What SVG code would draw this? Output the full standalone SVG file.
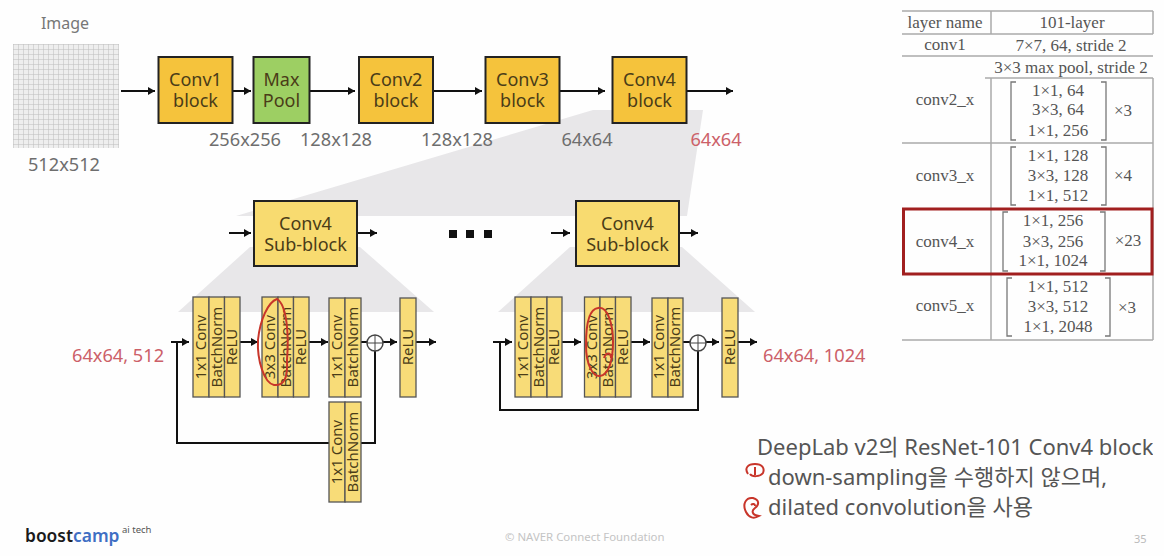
<svg xmlns="http://www.w3.org/2000/svg" width="1164" height="556" viewBox="0 0 1164 556">
<style>
text{font-family:"Noto Sans","Noto Sans CJK KR",sans-serif;}
.blk{fill:#f5c33c;stroke:#222;stroke-width:2}
.sub{fill:#f8db70;stroke:#222;stroke-width:2}
.lbl{font-size:18px;fill:#4a3c18;text-anchor:middle}
.dim{font-size:18.2px;fill:#6e6e6e;text-anchor:middle}
.red{font-size:18.2px;fill:#cc6068}
.cell{fill:#f8dc78;stroke:#555;stroke-width:1.3}
.v{font-size:15px;fill:#4a3c18;text-anchor:middle}
.wire{stroke:#111;stroke-width:2;fill:none}
.arr{stroke:#111;stroke-width:2;fill:none;marker-end:url(#head)}
.tl{stroke:#aaa;stroke-width:1.5;fill:none}
.br{stroke:#777;stroke-width:1.3;fill:none}
.t{font-family:"Liberation Serif",serif;font-size:17px;fill:#555;text-anchor:middle}
.ink{stroke:#c8352a;stroke-width:2;fill:none}
.note{font-size:22px;fill:#555}
</style>
<defs>
<marker id="head" markerUnits="userSpaceOnUse" markerWidth="9" markerHeight="9" refX="7" refY="4" orient="auto"><path d="M0 0L7 4L0 8Z" fill="#111"/></marker>
<pattern id="mesh" width="5" height="5" patternUnits="userSpaceOnUse" x="13" y="44"><rect width="5" height="5" fill="#eeeeee"/><path d="M0 0H5M0 0V5" stroke="#bdbdbd" stroke-width="1"/></pattern>
<clipPath id="noteClip"><rect x="740" y="430" width="413" height="40"/></clipPath>
</defs>
<rect width="1164" height="556" fill="#fefefe"/>

<!-- zoom wedges behind the blocks -->
<g id="wedges" fill="#e8e7e9">
<polygon points="593,110 703,110 687,216 236,216"/>
<polygon points="250,247 360,247 434,312 178,312"/>
<polygon points="570,247 682,247 755,312 498,312"/>
</g>

<g id="input-image">
<text x="65" y="29" font-size="16" fill="#777" text-anchor="middle">Image</text>
<rect x="13" y="44" width="106" height="104" fill="url(#mesh)"/>
<text x="64" y="171" class="dim">512x512</text>
</g>

<g id="connectors">
<path class="arr" d="M121 91H155"/>
<path class="arr" d="M233 91H251"/>
<path class="arr" d="M310 91H355"/>
<path class="arr" d="M433 91H482"/>
<path class="arr" d="M560 91H605"/>
<path class="arr" d="M687 91H733"/>
<path class="arr" d="M229 233H251"/>
<path class="arr" d="M358 233H377"/>
<path class="arr" d="M551 233H570"/>
<path class="arr" d="M680 233H698"/>
<path class="arr" d="M171 342H189"/>
<path class="arr" d="M240 342H258"/>
<path class="arr" d="M309 342H328"/>
<path class="wire" d="M361 342H367"/>
<path class="arr" d="M383 342H397"/>
<path class="arr" d="M416 342H436"/>
<path class="wire" d="M177 342V443H375V351"/>
<path class="arr" d="M493 342H512"/>
<path class="arr" d="M562 342H581"/>
<path class="arr" d="M631 342H650"/>
<path class="wire" d="M683 342H690"/>
<path class="arr" d="M706 342H719"/>
<path class="arr" d="M738 342H757"/>
<path class="wire" d="M500 342V410H698V351"/>
</g>

<g id="conv1-block"><rect class="blk" x="158.500" y="57" width="74" height="66"/><text class="lbl" x="195.500" y="86">Conv1</text><text class="lbl" x="195.500" y="107">block</text></g>
<g id="max-pool"><rect x="253.500" y="57" width="56" height="66" fill="#9dcf63" stroke="#222" stroke-width="2"/><text class="lbl" x="281.500" y="86">Max</text><text class="lbl" x="281.500" y="107">Pool</text></g>
<g id="conv2-block"><rect class="blk" x="359" y="57" width="74" height="66"/><text class="lbl" x="396" y="86">Conv2</text><text class="lbl" x="396" y="107">block</text></g>
<g id="conv3-block"><rect class="blk" x="485.500" y="57" width="74" height="66"/><text class="lbl" x="522.500" y="86">Conv3</text><text class="lbl" x="522.500" y="107">block</text></g>
<g id="conv4-block"><rect class="blk" x="612.500" y="57" width="74" height="66"/><text class="lbl" x="649.500" y="86">Conv4</text><text class="lbl" x="649.500" y="107">block</text></g>

<g id="stage-sizes">
<text class="dim" x="245" y="146">256x256</text>
<text class="dim" x="336" y="146">128x128</text>
<text class="dim" x="457" y="146">128x128</text>
<text class="dim" x="587" y="146">64x64</text>
<text class="red" x="716" y="146" text-anchor="middle">64x64</text>
</g>

<g id="sub-block-first"><rect class="sub" x="254" y="201" width="103" height="65"/><text class="lbl" x="305.500" y="230">Conv4</text><text class="lbl" x="305.500" y="251">Sub-block</text></g>
<g id="sub-block-last"><rect class="sub" x="576" y="201" width="103" height="65"/><text class="lbl" x="627.500" y="230">Conv4</text><text class="lbl" x="627.500" y="251">Sub-block</text></g>
<g id="ellipsis" fill="#111"><rect x="449" y="230" width="8" height="8"/><rect x="466" y="230" width="8" height="8"/><rect x="484" y="230" width="8" height="8"/></g>

<!-- first sub-block internals -->
<g id="a-conv1"><rect class="cell" x="193" y="297" width="16" height="100"/><rect class="cell" x="209" y="297" width="15.500" height="100"/><rect class="cell" x="224.500" y="297" width="15.500" height="100"/>
<text class="v" transform="translate(206,347) rotate(-90)">1x1 Conv</text><text class="v" transform="translate(222,347) rotate(-90)">BatchNorm</text><text class="v" transform="translate(237,347) rotate(-90)">ReLU</text></g>
<g id="a-conv3"><rect class="cell" x="262" y="297" width="16" height="100"/><rect class="cell" x="278" y="297" width="15.500" height="100"/><rect class="cell" x="293.500" y="297" width="15.500" height="100"/>
<text class="v" transform="translate(275,347) rotate(-90)">3x3 Conv</text><text class="v" transform="translate(291,347) rotate(-90)">BatchNorm</text><text class="v" transform="translate(306,347) rotate(-90)">ReLU</text></g>
<g id="a-conv1b"><rect class="cell" x="329" y="298" width="16" height="99"/><rect class="cell" x="345" y="298" width="16" height="99"/>
<text class="v" transform="translate(342,347) rotate(-90)">1x1 Conv</text><text class="v" transform="translate(358,347) rotate(-90)">BatchNorm</text></g>
<g id="a-add"><circle cx="375" cy="343" r="8" fill="#fff" stroke="#444" stroke-width="1.500"/><path d="M367 343H383M375 335V351" stroke="#444" stroke-width="1"/></g>
<g id="a-relu"><rect class="cell" x="400" y="298" width="16" height="99"/><text class="v" transform="translate(413,347) rotate(-90)">ReLU</text></g>
<g id="a-shortcut"><rect class="cell" x="329" y="402" width="16" height="100"/><rect class="cell" x="345" y="402" width="16" height="100"/>
<text class="v" transform="translate(342,452) rotate(-90)">1x1 Conv</text><text class="v" transform="translate(358,452) rotate(-90)">BatchNorm</text></g>
<text id="a-size" class="red" x="72" y="362">64x64, 512</text>

<!-- last sub-block internals -->
<g id="b-conv1"><rect class="cell" x="515" y="297" width="16" height="100"/><rect class="cell" x="531" y="297" width="16" height="100"/><rect class="cell" x="547" y="297" width="15" height="100"/>
<text class="v" transform="translate(528,347) rotate(-90)">1x1 Conv</text><text class="v" transform="translate(544,347) rotate(-90)">BatchNorm</text><text class="v" transform="translate(559,347) rotate(-90)">ReLU</text></g>
<g id="b-conv3"><rect class="cell" x="584.500" y="297" width="15.500" height="100"/><rect class="cell" x="600" y="297" width="15.500" height="100"/><rect class="cell" x="615.500" y="297" width="15.500" height="100"/>
<text class="v" transform="translate(597,347) rotate(-90)">3x3 Conv</text><text class="v" transform="translate(613,347) rotate(-90)">BatchNorm</text><text class="v" transform="translate(628,347) rotate(-90)">ReLU</text></g>
<g id="b-conv1b"><rect class="cell" x="652" y="298" width="16" height="99"/><rect class="cell" x="668" y="298" width="15" height="99"/>
<text class="v" transform="translate(664,347) rotate(-90)">1x1 Conv</text><text class="v" transform="translate(680,347) rotate(-90)">BatchNorm</text></g>
<g id="b-add"><circle cx="698" cy="343" r="8" fill="#fff" stroke="#444" stroke-width="1.500"/><path d="M690 343H706M698 335V351" stroke="#444" stroke-width="1"/></g>
<g id="b-relu"><rect class="cell" x="722" y="298" width="16" height="99"/><text class="v" transform="translate(735,347) rotate(-90)">ReLU</text></g>
<text id="b-size" class="red" x="763" y="362">64x64, 1024</text>

<!-- hand-drawn annotations -->
<g id="ink">
<path class="ink" d="M277 299C268 302 260 320 258 340C257 360 264 383 274 385C284 386 288 378 287 360C289 335 287 305 277 299Z"/>
<path class="ink" d="M598 308C589 309 586 325 586 345C586 365 593 377 600 376C608 375 613 362 613 342C613 325 608 306 598 308Z"/>
<path class="ink" d="M604 358C606 352 611 352 611 358"/>
<path class="ink" d="M748 474C744 468 748 464 755 464C762 464 765 468 763 473C760 477 752 477 750 474M755 467V475"/>
<path class="ink" d="M746 512C742 504 746 497 753 498C760 500 759 505 755 508C751 511 752 515 759 516C754 519 749 518 746 512M751 505C753 503 755 504 755 506"/>
</g>

<!-- layer table -->
<g id="resnet-table">
<path class="tl" d="M902 11H1153M902 34H1153M902 56H1153M985 78H1153M902 143H1153M902 340H1153M991 11V34M991 78V340M1153 11V34M1153 78V340"/>
<text class="t" x="945" y="28">layer name</text><text class="t" x="1072" y="28">101-layer</text>
<text class="t" x="945" y="50">conv1</text><text class="t" x="1071" y="51">7×7, 64, stride 2</text>
<text class="t" x="1071" y="73">3×3 max pool, stride 2</text>
<text class="t" x="945" y="105">conv2_x</text>
<path class="br" d="M1016 82H1011V140H1016M1101 82H1106V140H1101"/>
<text class="t" x="1058" y="96">1×1, 64</text><text class="t" x="1058" y="115">3×3, 64</text><text class="t" x="1058" y="136">1×1, 256</text><text class="t" x="1123" y="116">×3</text>
<text class="t" x="945" y="181">conv3_x</text>
<path class="br" d="M1016 147H1011V205H1016M1101 147H1106V205H1101"/>
<text class="t" x="1058" y="161">1×1, 128</text><text class="t" x="1058" y="181">3×3, 128</text><text class="t" x="1058" y="201">1×1, 512</text><text class="t" x="1123" y="181">×4</text>
<text class="t" x="945" y="247">conv4_x</text>
<path class="br" d="M1008 212H1003V271H1008M1100 212H1105V271H1100"/>
<text class="t" x="1053" y="226">1×1, 256</text><text class="t" x="1053" y="247">3×3, 256</text><text class="t" x="1053" y="266">1×1, 1024</text><text class="t" x="1128" y="246">×23</text>
<text class="t" x="945" y="311">conv5_x</text>
<path class="br" d="M1012 278H1007V336H1012M1105 278H1110V336H1105"/>
<text class="t" x="1058" y="292">1×1, 512</text><text class="t" x="1058" y="312">3×3, 512</text><text class="t" x="1058" y="332">1×1, 2048</text><text class="t" x="1127" y="313">×3</text>
<rect x="903.500" y="209" width="248.500" height="65" fill="none" stroke="#a11f1f" stroke-width="3"/>
</g>

<g id="notes">
<text class="note" x="757" y="455" clip-path="url(#noteClip)">DeepLab v2의 ResNet-101 Conv4 block</text>
<text class="note" x="768" y="485">down-sampling을 수행하지 않으며,</text>
<text class="note" x="768" y="515">dilated convolution을 사용</text>
</g>

<g id="footer">
<text x="25" y="542" font-size="17.400" font-weight="600" fill="#1a1a1a">boost<tspan fill="#3f6fc4">camp</tspan></text>
<text x="122" y="533" font-size="9.500" fill="#555">ai tech</text>
<text x="505" y="541" font-size="11.400" fill="#c4c4c4">© NAVER Connect Foundation</text>
<text x="1134" y="543" font-size="11" fill="#bbb">35</text>
</g>
</svg>
